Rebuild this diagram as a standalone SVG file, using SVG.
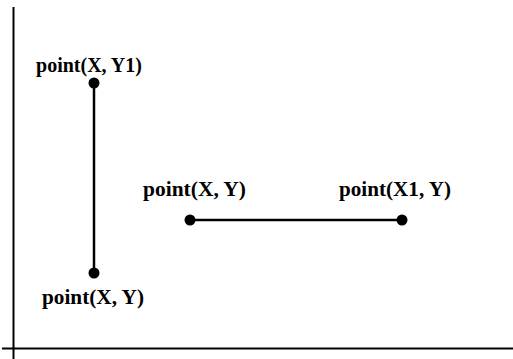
<svg xmlns="http://www.w3.org/2000/svg" width="513" height="359" viewBox="0 0 513 359">
<style>
.lbl{font-family:"Liberation Serif","Times New Roman",serif;font-weight:bold;font-size:22px;fill:#000}
.ax{stroke:#000;stroke-width:2;fill:none}
.seg{stroke:#000;stroke-width:2.5;fill:none}
.dot{fill:#000}
</style>
<rect width="513" height="359" fill="#fff"/>
<g id="axes">
<line class="ax" x1="13.5" y1="7" x2="13.5" y2="359"/>
<line class="ax" x1="2" y1="348.5" x2="513" y2="348.5"/>
</g>
<g id="connectors">
<line class="seg" x1="94" y1="83" x2="94" y2="273"/>
<line class="seg" x1="190" y1="220" x2="402" y2="220"/>
</g>
<g id="p-x-y1">
<circle class="dot" cx="94" cy="83" r="5.5"/>
<text class="lbl" x="36" y="72" textLength="106" lengthAdjust="spacingAndGlyphs">point(X, Y1)</text>
</g>
<g id="p-x-y-bottom">
<circle class="dot" cx="94" cy="273" r="5.5"/>
<text class="lbl" x="42" y="304" textLength="102" lengthAdjust="spacingAndGlyphs">point(X, Y)</text>
</g>
<g id="p-x-y-mid">
<circle class="dot" cx="190" cy="220" r="5.5"/>
<text class="lbl" x="143" y="196" textLength="103" lengthAdjust="spacingAndGlyphs">point(X, Y)</text>
</g>
<g id="p-x1-y">
<circle class="dot" cx="402" cy="220" r="5.5"/>
<text class="lbl" x="339" y="196" textLength="112" lengthAdjust="spacingAndGlyphs">point(X1, Y)</text>
</g>
</svg>
